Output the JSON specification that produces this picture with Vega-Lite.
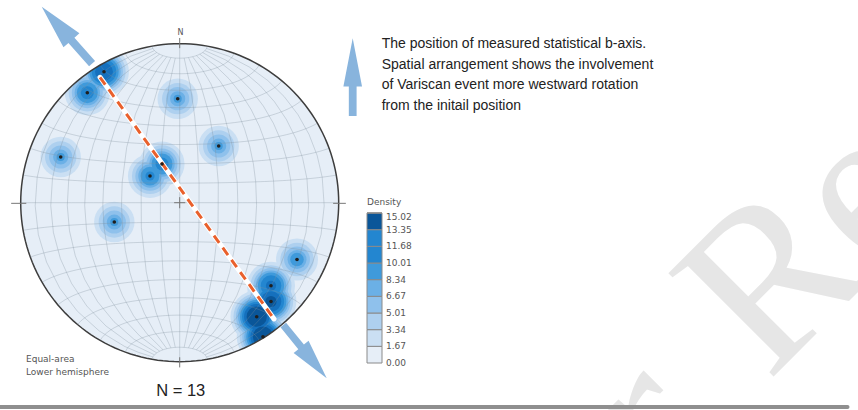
{
  "$schema": "https://vega.github.io/schema/vega-lite/v6.json",
  "width": 858,
  "height": 410,
  "autosize": "none",
  "padding": 0,
  "background": "white",
  "config": {"view": {"stroke": null}},
  "projection": {"type": "azimuthalEqualArea", "scale": 112.43, "translate": [179.7, 202.7], "clipAngle": 90},
  "datasets": {
    "lineations": [
      {"id": 1, "lon": -79.26, "lat": 59.54, "density": 13.5},
      {"id": 2, "lon": -73.8, "lat": 48.83, "density": 11},
      {"id": 3, "lon": -1.58, "lat": 55.09, "density": 8.8},
      {"id": 4, "lon": 22.11, "lat": 28.69, "density": 8.8},
      {"id": 5, "lon": -67.72, "lat": 19.56, "density": 8.8},
      {"id": 6, "lon": -15.51, "lat": 13.51, "density": 10.5},
      {"id": 7, "lon": -34.18, "lat": -9.42, "density": 8.8},
      {"id": 8, "lon": 68.9, "lat": -24.31, "density": 9.5},
      {"id": 9, "lon": 59.63, "lat": -38.11, "density": 12.5},
      {"id": 10, "lon": 66.41, "lat": -44.76, "density": 14},
      {"id": 11, "lon": 65.11, "lat": -53.33, "density": 15},
      {"id": 12, "lon": 88.35, "lat": -58.13, "density": 15},
      {"id": 13, "lon": -9.45, "lat": 19.76, "density": 11}
    ],
    "baxis": [
      {"seq": 1, "lon": -76.61, "lat": 56.85},
      {"seq": 2, "lon": 79.75, "lat": -50.5}
    ],
    "bands": [
      {"level": 0.83}, {"level": 2.5}, {"level": 4.17}, {"level": 5.84}, {"level": 7.51},
      {"level": 9.18}, {"level": 10.85}, {"level": 12.52}, {"level": 14.18}
    ]
  },
  "resolve": {"scale": {"size": "independent"}},
  "layer": [
    {
      "data": {"values": [{}]},
      "mark": {"type": "text", "text": "r.", "font": "Liberation Serif", "fontSize": 225, "angle": -45, "align": "left", "baseline": "alphabetic", "color": "#e6e6e6"},
      "encoding": {
        "x": {"datum": 3.0648, "type": "quantitative", "scale": {"domain": [-1.1302, 4.266], "nice": false, "zero": false}, "axis": null},
        "y": {"datum": -1.8509, "type": "quantitative", "scale": {"domain": [-1.3038, 1.2748], "nice": false, "zero": false}, "axis": null}
      }
    },
    {
      "data": {"values": [{}]},
      "mark": {"type": "text", "text": "Re", "font": "Liberation Serif", "fontSize": 225, "angle": -45, "align": "left", "baseline": "alphabetic", "color": "#e6e6e6"},
      "encoding": {
        "x": {"datum": 3.7, "type": "quantitative", "scale": {"domain": [-1.1302, 4.266], "nice": false, "zero": false}, "axis": null},
        "y": {"datum": -1.1277, "type": "quantitative", "scale": {"domain": [-1.3038, 1.2748], "nice": false, "zero": false}, "axis": null}
      }
    },
    {
      "data": {"values": [{}]},
      "mark": {"type": "rule", "color": "#8f8f8f", "strokeWidth": 4, "strokeCap": "round"},
      "encoding": {
        "x": {"datum": -1.2, "type": "quantitative", "scale": {"domain": [-1.1302, 4.266], "nice": false, "zero": false}, "axis": null},
        "x2": {"datum": 4.2},
        "y": {"datum": -1.2849, "type": "quantitative", "scale": {"domain": [-1.3038, 1.2748], "nice": false, "zero": false}, "axis": null}
      }
    },
    {
      "data": {"name": "bands"},
      "mark": {"type": "circle", "size": 0, "opacity": 0},
      "encoding": {
        "x": {"datum": 0, "type": "quantitative", "scale": {"domain": [-1.1302, 4.266], "nice": false, "zero": false}, "axis": null},
        "y": {"datum": 0, "type": "quantitative", "scale": {"domain": [-1.3038, 1.2748], "nice": false, "zero": false}, "axis": null},
        "color": {
          "field": "level",
          "type": "quantitative",
          "scale": {"type": "quantize", "domain": [0, 15.0183], "range": ["#e6eef7", "#cadff3", "#aed0ef", "#8fc1ec", "#6bb0e6", "#3f9adb", "#2386d0", "#1570bd", "#0a5699"]},
          "legend": {
            "title": "Density", "type": "gradient", "orient": "none", "legendX": 367, "legendY": 198,
            "direction": "vertical", "gradientLength": 150, "gradientThickness": 15, "format": ".2f",
            "values": [0, 1.6687, 3.3374, 5.0061, 6.6748, 8.3435, 10.0122, 11.6809, 13.3496, 15.0183],
            "labelFont": "DejaVu Sans", "labelFontSize": 9, "labelColor": "#555555", "labelOffset": 4,
            "labelOverlap": false, "labelBaseline": "middle",
            "titleFont": "DejaVu Sans", "titleFontSize": 9, "titleFontWeight": "normal", "titleColor": "#555555", "titlePadding": 6,
            "gradientStrokeColor": "#8a8a8a", "gradientStrokeWidth": 1
          }
        }
      }
    },
    {
      "data": {"values": [{}]},
      "mark": {"type": "text", "text": "0.00", "font": "DejaVu Sans", "fontSize": 9, "color": "#555555", "align": "left", "baseline": "middle"},
      "encoding": {
        "x": {"datum": 1.2975, "type": "quantitative", "scale": {"domain": [-1.1302, 4.266], "nice": false, "zero": false}, "axis": null},
        "y": {"datum": -1.0101, "type": "quantitative", "scale": {"domain": [-1.3038, 1.2748], "nice": false, "zero": false}, "axis": null}
      }
    },
    {
      "data": {"sphere": true},
      "mark": {"type": "geoshape", "fill": "#e6eef7", "stroke": null}
    },
    {
      "data": {"name": "lineations"},
      "transform": [{"filter": "datum.density > 1.6687"}],
      "mark": {"type": "circle", "opacity": 1, "color": "#cadff3"},
      "encoding": {
        "longitude": {"field": "lon", "type": "quantitative"},
        "latitude": {"field": "lat", "type": "quantitative"},
        "size": {"field": "density", "type": "quantitative", "scale": {"type": "linear", "domain": [-0.19, 16], "range": [0, 2942], "clamp": true, "zero": false}, "legend": null}
      }
    },
    {
      "data": {"name": "lineations"},
      "transform": [{"filter": "datum.density > 3.3374"}],
      "mark": {"type": "circle", "opacity": 1, "color": "#aed0ef"},
      "encoding": {
        "longitude": {"field": "lon", "type": "quantitative"},
        "latitude": {"field": "lat", "type": "quantitative"},
        "size": {"field": "density", "type": "quantitative", "scale": {"type": "linear", "domain": [3.64, 16], "range": [0, 2350], "clamp": true, "zero": false}, "legend": null}
      }
    },
    {
      "data": {"name": "lineations"},
      "transform": [{"filter": "datum.density > 5.0061"}],
      "mark": {"type": "circle", "opacity": 1, "color": "#8fc1ec"},
      "encoding": {
        "longitude": {"field": "lon", "type": "quantitative"},
        "latitude": {"field": "lat", "type": "quantitative"},
        "size": {"field": "density", "type": "quantitative", "scale": {"type": "linear", "domain": [5.96, 16], "range": [0, 1906], "clamp": true, "zero": false}, "legend": null}
      }
    },
    {
      "data": {"name": "lineations"},
      "transform": [{"filter": "datum.density > 6.6748"}],
      "mark": {"type": "circle", "opacity": 1, "color": "#6bb0e6"},
      "encoding": {
        "longitude": {"field": "lon", "type": "quantitative"},
        "latitude": {"field": "lat", "type": "quantitative"},
        "size": {"field": "density", "type": "quantitative", "scale": {"type": "linear", "domain": [7.58, 16], "range": [0, 1585], "clamp": true, "zero": false}, "legend": null}
      }
    },
    {
      "data": {"name": "lineations"},
      "transform": [{"filter": "datum.density > 8.3435"}],
      "mark": {"type": "circle", "opacity": 1, "color": "#3f9adb"},
      "encoding": {
        "longitude": {"field": "lon", "type": "quantitative"},
        "latitude": {"field": "lat", "type": "quantitative"},
        "size": {"field": "density", "type": "quantitative", "scale": {"type": "linear", "domain": [8.415, 16], "range": [0, 1280], "clamp": true, "zero": false}, "legend": null}
      }
    },
    {
      "data": {"name": "lineations"},
      "transform": [{"filter": "datum.density > 10.0122"}],
      "mark": {"type": "circle", "opacity": 1, "color": "#2386d0"},
      "encoding": {
        "longitude": {"field": "lon", "type": "quantitative"},
        "latitude": {"field": "lat", "type": "quantitative"},
        "size": {"field": "density", "type": "quantitative", "scale": {"type": "linear", "domain": [10.017, 16], "range": [0, 1030], "clamp": true, "zero": false}, "legend": null}
      }
    },
    {
      "data": {"name": "lineations"},
      "transform": [{"filter": "datum.density > 11.6809"}],
      "mark": {"type": "circle", "opacity": 1, "color": "#1570bd"},
      "encoding": {
        "longitude": {"field": "lon", "type": "quantitative"},
        "latitude": {"field": "lat", "type": "quantitative"},
        "size": {"field": "density", "type": "quantitative", "scale": {"type": "linear", "domain": [12.02, 16], "range": [0, 853], "clamp": true, "zero": false}, "legend": null}
      }
    },
    {
      "data": {"name": "lineations"},
      "transform": [{"filter": "datum.density > 13.3496"}],
      "mark": {"type": "circle", "opacity": 1, "color": "#0a5699"},
      "encoding": {
        "longitude": {"field": "lon", "type": "quantitative"},
        "latitude": {"field": "lat", "type": "quantitative"},
        "size": {"field": "density", "type": "quantitative", "scale": {"type": "linear", "domain": [13.566, 16], "range": [0, 693], "clamp": true, "zero": false}, "legend": null}
      }
    },
    {
      "data": {"graticule": true},
      "mark": {"type": "geoshape", "filled": false, "fill": null, "stroke": "#7f8e9c", "strokeWidth": 0.7, "strokeOpacity": 0.45}
    },
    {
      "data": {"values": [{}]},
      "mark": {"type": "point", "shape": "M1,0A1,1 0 1,1 -1,0A1,1 0 1,1 1,0Z M0.83684,0A0.83684,0.83684 0 1,0 -0.83684,0A0.83684,0.83684 0 1,0 0.83684,0Z", "filled": true, "color": "white", "strokeWidth": 0, "size": 144400, "opacity": 1},
      "encoding": {
        "x": {"datum": 0, "type": "quantitative", "scale": {"domain": [-1.1302, 4.266], "nice": false, "zero": false}, "axis": null},
        "y": {"datum": 0, "type": "quantitative", "scale": {"domain": [-1.3038, 1.2748], "nice": false, "zero": false}, "axis": null}
      }
    },
    {
      "data": {"sphere": true},
      "mark": {"type": "geoshape", "filled": false, "fill": null, "stroke": "#3d3d3d", "strokeWidth": 1.5}
    },
    {
      "data": {"values": [{}]},
      "mark": {"type": "rule", "color": "#777777", "strokeWidth": 1},
      "encoding": {
        "x": {"datum": 0, "type": "quantitative", "scale": {"domain": [-1.1302, 4.266], "nice": false, "zero": false}, "axis": null},
        "y": {"datum": 0.972, "type": "quantitative", "scale": {"domain": [-1.3038, 1.2748], "nice": false, "zero": false}, "axis": null},
        "y2": {"datum": 1.036}
      }
    },
    {
      "data": {"values": [{}]},
      "mark": {"type": "rule", "color": "#777777", "strokeWidth": 1},
      "encoding": {
        "x": {"datum": 0, "type": "quantitative", "scale": {"domain": [-1.1302, 4.266], "nice": false, "zero": false}, "axis": null},
        "y": {"datum": -0.972, "type": "quantitative", "scale": {"domain": [-1.3038, 1.2748], "nice": false, "zero": false}, "axis": null},
        "y2": {"datum": -1.036}
      }
    },
    {
      "data": {"values": [{}]},
      "mark": {"type": "rule", "color": "#777777", "strokeWidth": 1},
      "encoding": {
        "x": {"datum": -1.06, "type": "quantitative", "scale": {"domain": [-1.1302, 4.266], "nice": false, "zero": false}, "axis": null},
        "x2": {"datum": -0.965},
        "y": {"datum": -0.004, "type": "quantitative", "scale": {"domain": [-1.3038, 1.2748], "nice": false, "zero": false}, "axis": null}
      }
    },
    {
      "data": {"values": [{}]},
      "mark": {"type": "rule", "color": "#777777", "strokeWidth": 1},
      "encoding": {
        "x": {"datum": 0.965, "type": "quantitative", "scale": {"domain": [-1.1302, 4.266], "nice": false, "zero": false}, "axis": null},
        "x2": {"datum": 1.045},
        "y": {"datum": -0.004, "type": "quantitative", "scale": {"domain": [-1.3038, 1.2748], "nice": false, "zero": false}, "axis": null}
      }
    },
    {
      "data": {"values": [{}]},
      "mark": {"type": "rule", "color": "#777777", "strokeWidth": 1},
      "encoding": {
        "x": {"datum": -0.035, "type": "quantitative", "scale": {"domain": [-1.1302, 4.266], "nice": false, "zero": false}, "axis": null},
        "x2": {"datum": 0.035},
        "y": {"datum": 0, "type": "quantitative", "scale": {"domain": [-1.3038, 1.2748], "nice": false, "zero": false}, "axis": null}
      }
    },
    {
      "data": {"values": [{}]},
      "mark": {"type": "rule", "color": "#777777", "strokeWidth": 1},
      "encoding": {
        "x": {"datum": 0, "type": "quantitative", "scale": {"domain": [-1.1302, 4.266], "nice": false, "zero": false}, "axis": null},
        "y": {"datum": -0.035, "type": "quantitative", "scale": {"domain": [-1.3038, 1.2748], "nice": false, "zero": false}, "axis": null},
        "y2": {"datum": 0.035}
      }
    },
    {
      "data": {"values": [{}]},
      "mark": {"type": "point", "shape": "M0,-1L0.28,0.18L0.105,0.18L0.105,1L-0.105,1L-0.105,0.18L-0.28,0.18Z", "filled": true, "color": "#88b4dd", "strokeWidth": 0, "opacity": 1, "size": 5776, "angle": 318.5},
      "encoding": {
        "x": {"datum": -0.7094, "type": "quantitative", "scale": {"domain": [-1.1302, 4.266], "nice": false, "zero": false}, "axis": null},
        "y": {"datum": 1.0535, "type": "quantitative", "scale": {"domain": [-1.3038, 1.2748], "nice": false, "zero": false}, "axis": null}
      }
    },
    {
      "data": {"values": [{}]},
      "mark": {"type": "point", "shape": "M0,-1L0.28,0.18L0.105,0.18L0.105,1L-0.105,1L-0.105,0.18L-0.28,0.18Z", "filled": true, "color": "#88b4dd", "strokeWidth": 0, "opacity": 1, "size": 4720, "angle": 140.8},
      "encoding": {
        "x": {"datum": 0.7881, "type": "quantitative", "scale": {"domain": [-1.1302, 4.266], "nice": false, "zero": false}, "axis": null},
        "y": {"datum": -0.9368, "type": "quantitative", "scale": {"domain": [-1.3038, 1.2748], "nice": false, "zero": false}, "axis": null}
      }
    },
    {
      "data": {"values": [{}]},
      "mark": {"type": "point", "shape": "M0,-1L0.24,0.24L0.1,0.24L0.1,1L-0.1,1L-0.1,0.24L-0.24,0.24Z", "filled": true, "color": "#88b4dd", "strokeWidth": 0, "opacity": 1, "size": 6037, "angle": 0},
      "encoding": {
        "x": {"datum": 1.0881, "type": "quantitative", "scale": {"domain": [-1.1302, 4.266], "nice": false, "zero": false}, "axis": null},
        "y": {"datum": 0.7893, "type": "quantitative", "scale": {"domain": [-1.3038, 1.2748], "nice": false, "zero": false}, "axis": null}
      }
    },
    {
      "data": {"name": "baxis"},
      "mark": {"type": "line", "stroke": "white", "strokeWidth": 5, "strokeCap": "round"},
      "encoding": {
        "longitude": {"field": "lon", "type": "quantitative"},
        "latitude": {"field": "lat", "type": "quantitative"},
        "order": {"field": "seq", "type": "quantitative"}
      }
    },
    {
      "data": {"name": "baxis"},
      "mark": {"type": "line", "stroke": "#e9602c", "strokeWidth": 3, "strokeDash": [9, 6]},
      "encoding": {
        "longitude": {"field": "lon", "type": "quantitative"},
        "latitude": {"field": "lat", "type": "quantitative"},
        "order": {"field": "seq", "type": "quantitative"}
      }
    },
    {
      "data": {"name": "lineations"},
      "mark": {"type": "circle", "size": 13, "color": "#1f1f1f", "opacity": 1},
      "encoding": {
        "longitude": {"field": "lon", "type": "quantitative"},
        "latitude": {"field": "lat", "type": "quantitative"}
      }
    },
    {
      "data": {"values": [{}]},
      "mark": {"type": "text", "text": "N", "font": "DejaVu Sans", "fontSize": 8, "color": "#555555", "align": "center", "baseline": "middle"},
      "encoding": {
        "x": {"datum": 0.005, "type": "quantitative", "scale": {"domain": [-1.1302, 4.266], "nice": false, "zero": false}, "axis": null},
        "y": {"datum": 1.067, "type": "quantitative", "scale": {"domain": [-1.3038, 1.2748], "nice": false, "zero": false}, "axis": null}
      }
    },
    {
      "data": {"values": [{}]},
      "mark": {"type": "text", "text": ["Equal-area", "Lower hemisphere"], "font": "DejaVu Sans", "fontSize": 9, "lineHeight": 12.5, "color": "#555555", "align": "left", "baseline": "alphabetic"},
      "encoding": {
        "x": {"datum": -0.9667, "type": "quantitative", "scale": {"domain": [-1.1302, 4.266], "nice": false, "zero": false}, "axis": null},
        "y": {"datum": -1.005, "type": "quantitative", "scale": {"domain": [-1.3038, 1.2748], "nice": false, "zero": false}, "axis": null}
      }
    },
    {
      "data": {"values": [{}]},
      "mark": {"type": "text", "text": "N = 13", "font": "Liberation Sans", "fontSize": 16.5, "color": "#222222", "align": "center", "baseline": "alphabetic"},
      "encoding": {
        "x": {"datum": 0.0063, "type": "quantitative", "scale": {"domain": [-1.1302, 4.266], "nice": false, "zero": false}, "axis": null},
        "y": {"datum": -1.2157, "type": "quantitative", "scale": {"domain": [-1.3038, 1.2748], "nice": false, "zero": false}, "axis": null}
      }
    },
    {
      "data": {"values": [{}]},
      "mark": {"type": "text", "text": ["The position of measured statistical b-axis.", "Spatial arrangement shows the involvement", "of Variscan event more westward rotation", "from the initail position"], "font": "Liberation Sans", "fontSize": 14, "lineHeight": 20.5, "color": "#222222", "align": "left", "baseline": "alphabetic"},
      "encoding": {
        "x": {"datum": 1.2704, "type": "quantitative", "scale": {"domain": [-1.1302, 4.266], "nice": false, "zero": false}, "axis": null},
        "y": {"datum": 0.9698, "type": "quantitative", "scale": {"domain": [-1.3038, 1.2748], "nice": false, "zero": false}, "axis": null}
      }
    }
  ]
}
